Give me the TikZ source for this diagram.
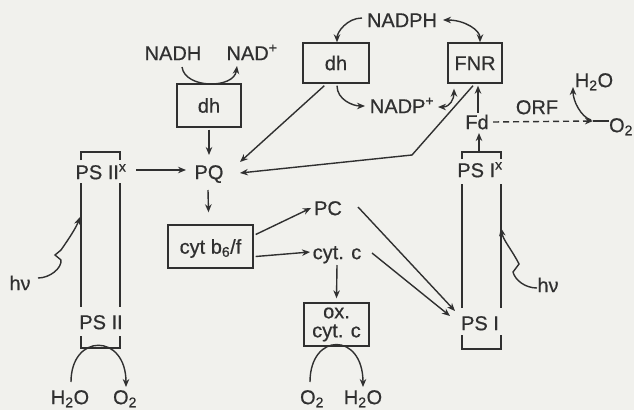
\documentclass[tikz,border=0pt]{standalone}
\usepackage{fontspec}
\setmainfont{Liberation Sans}[BoldFont={Liberation Sans}, BoldFeatures={FakeBold=0.6}]
\usetikzlibrary{arrows.meta,calc}
\definecolor{paper}{RGB}{241,241,237}
\definecolor{ink}{RGB}{48,48,48}
\begin{document}
\begin{tikzpicture}[x=1pt,y=-1pt,
  every node/.style={font=\fontsize{20}{20}\selectfont\bfseries, text=ink},
  txt/.style={inner sep=0pt, text height=14.3pt, text depth=0pt},
  box/.style={draw=ink, line width=1.4pt, inner sep=0pt, text height=14.3pt, text depth=0pt},
  ln/.style={draw=ink, line width=1.4pt},
  arr/.style={ln, -{Stealth[length=8pt,width=6.5pt]}},
  darr/.style={ln, {Stealth[length=8pt,width=6.5pt]}-{Stealth[length=8pt,width=6.5pt]}},
]
\fill[paper] (0,0) rectangle (634,410);
\useasboundingbox (0,0) rectangle (634,410);

% nodes
\node[txt] (NADH) at (173,53) {NADH};
\node[txt] (NADp) at (252,53) {NAD\textsuperscript{+}};
\node[box, minimum width=64pt, minimum height=43pt] (dhL) at (209,105.5) {dh};
\node[box, minimum width=66pt, minimum height=40pt] (dhR) at (336,63) {dh};
\node[box, minimum width=54pt, minimum height=40pt] (FNR) at (475,63) {FNR};
\node[txt] (NADPH) at (402,20) {NADPH};
\node[txt] (NADPp) at (402,106) {NADP\textsuperscript{+}};
\node[txt] (H2Ot) at (594,80) {H\textsubscript{2}O};
\node[txt] (O2r) at (621,125) {O\textsubscript{2}};
\node[txt] (ORF) at (537,107) {ORF};
\node[txt] (Fd) at (477,122) {Fd};
\node[txt] (PSIx) at (480,170) {PS I\textsuperscript{x}};
\node[txt] (PSIIx) at (101,172) {PS II\textsuperscript{x}};
\node[txt] (PQ) at (209,172) {PQ};
\node[box, minimum width=85pt, minimum height=43pt] (cytbf) at (210.5,246.5) {cyt b\textsubscript{6}/f};
\node[txt] (PC) at (328,208) {PC};
\node[txt] (cytc) at (337,252) {cyt. c};
\node[draw=ink, line width=1.4pt, inner sep=0pt, minimum width=65pt, minimum height=43pt, align=center] (oxc) at (336.5,324.5) {ox.\\[-1pt]cyt. c};
\node[txt] (PSII) at (101,322) {PS II};
\node[txt] (PSI) at (480,323) {PS I};
\node[txt] (hvL) at (20,283) {hν};
\node[txt] (hvR) at (548,285) {hν};
\node[txt] (H2Obl) at (70,397) {H\textsubscript{2}O};
\node[txt] (O2bl) at (125,397) {O\textsubscript{2}};
\node[txt] (O2bm) at (312,397) {O\textsubscript{2}};
\node[txt] (H2Obm) at (363,397) {H\textsubscript{2}O};

% photosystem columns
\draw[ln] (81,160) -- (81,152) -- (120,152) -- (120,160);
\draw[ln] (81,183) -- (81,307) (120,183) -- (120,307);
\draw[ln] (81,336) -- (81,348) -- (120,348) -- (120,336);
\draw[ln] (462,159) -- (462,152) -- (501,152) -- (501,159);
\draw[ln] (462,184) -- (462,308) (501,184) -- (501,308);
\draw[ln] (462,335) -- (462,349) -- (501,349) -- (501,335);
\coordinate (psiiL) at (80,217);
\coordinate (psiR) at (501,228);

% connectors
\draw[arr] ($(NADH)+(9,14)$) .. controls +(3,22) and +(-3,23) .. ($(NADp)+(-15,13)$);
\draw[arr] ($(dhL.south)+(0,2)$) -- ($(PQ)+(0,-17)$);
\draw[arr] ($(dhR.south west)+(22,2)$) -- ($(PQ)+(31,-10)$);
\coordinate (bend) at ($(PQ)+(203,-17)$);
\draw[arr] ($(FNR.south)+(-2,2)$) -- (bend) -- ($(PQ)+(31,1)$);
\draw[arr] ($(dhR.south)+(1,2)$) .. controls +(0,14) and +(-12,0) .. ($(NADPp)+(-37,0)$);
\draw[arr] ($(NADPH)+(-40,-2)$) .. controls +(-15,0) and +(0,-10) .. ($(dhR.north)+(1,0)$);
\draw[darr] ($(NADPH)+(41,0)$) .. controls +(22,0) and +(0,-12) .. ($(FNR.north)+(5,0)$);
\draw[darr] ($(NADPp)+(36,1)$) .. controls +(12,0) and +(0,10) .. ($(FNR.south)+(-21,5)$);
\draw[arr] ($(Fd.north)+(1,-2)$) -- ($(FNR.south)+(3,2)$);
\coordinate (k) at ($(O2r)+(-28,-4)$);
\draw[arr, dash pattern=on 6pt off 4pt] ($(Fd)+(16,0)$) -- (k);
\draw[ln] (k) -- ($(O2r)+(-12,-4)$);
\draw[arr] ($(k)+(-2,-1)$) .. controls +(-10,-3) and +(0,14) .. ($(H2Ot)+(-21,7)$);
\draw[arr] ($(PSIx)+(-1,-18)$) -- ($(Fd)+(2,11)$);
\draw[arr] ($(PSIIx)+(35,-2)$) -- ($(PQ)+(-23,-2)$);
\draw[arr] ($(PQ)+(-1,18)$) -- ($(cytbf.north)+(-2,-12)$);
\draw[arr] ($(cytbf.east)+(2,-12)$) -- ($(PC)+(-17,0)$);
\draw[arr] ($(cytbf.east)+(2,10)$) -- ($(cytc)+(-27,0)$);
\draw[arr] ($(cytc)+(0,13)$) -- ($(oxc.north)+(0,-4)$);
\draw[arr] ($(PC)+(30,-1)$) -- ($(PSI)+(-25,-12)$);
\draw[arr] ($(cytc)+(35,1)$) -- ($(PSI)+(-30,-7)$);
\draw[arr] ($(O2bm)+(-2,-15)$) .. controls +(0,-50) and +(0,-55) .. ($(H2Obm)+(0,-10)$);
\draw[arr] ($(H2Obl)+(1,-15)$) .. controls +(0,-49) and +(0,-54) .. ($(O2bl)+(1,-10)$);
\draw[arr] ($(hvL)+(18,-5)$) .. controls +(12,0) and +(1,8) .. ($(hvL)+(41,-23)$) -- ($(hvL)+(35,-28)$) -- ($(hvL)+(41,-33)$) .. controls +(7,-10) and +(-4,11) .. (psiiL);
\draw[arr] ($(hvR)+(-11,3)$) .. controls +(-12,0) and +(2,8) .. ($(hvR)+(-35,-13)$) -- ($(hvR)+(-29,-21)$) .. controls +(-7,-14) and +(2,12) .. (psiR);
\end{tikzpicture}
\end{document}
